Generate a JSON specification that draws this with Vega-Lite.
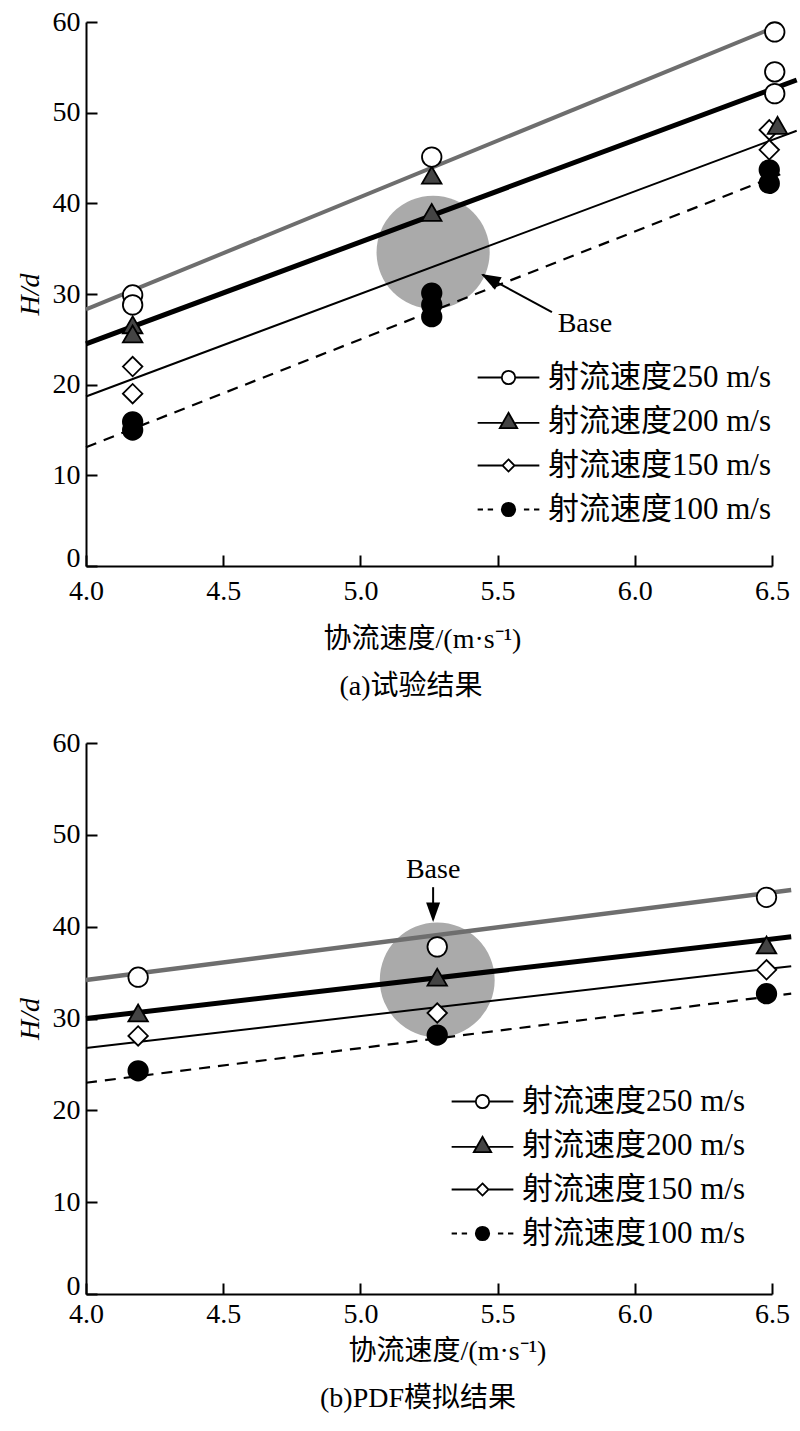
{
  "$schema": "https://vega.github.io/schema/vega-lite/v6.json",
  "padding": {"left": 16, "top": 8, "right": 0, "bottom": 5},
  "bounds": "flush",
  "spacing": 177,
  "config": {
    "view": {"stroke": null},
    "font": "Liberation Serif, Noto Sans CJK SC",
    "axis": {
      "grid": false, "domainColor": "black", "domainWidth": 2, "tickColor": "black", "tickWidth": 2,
      "tickSize": -11, "labelPadding": 17, "labelFont": "Liberation Serif", "labelFontSize": 28,
      "labelColor": "black", "titleFont": "Liberation Serif, Noto Sans CJK SC", "titleFontSize": 28,
      "titleFontWeight": "normal", "titleColor": "black", "labelFlush": false, "labelOverlap": false
    },
    "title": {"font": "Liberation Serif, Noto Sans CJK SC", "fontSize": 28, "fontWeight": "normal", "color": "black"},
    "legend": {
      "labelFont": "Liberation Serif, Noto Sans CJK SC", "labelFontSize": 31, "labelColor": "black",
      "symbolSize": 180, "labelOffset": 24, "rowPadding": 12, "padding": 0, "symbolStrokeWidth": 1.8,
      "labelLimit": 400, "symbolOpacity": 1
    }
  },
  "resolve": {
    "scale": {"x": "independent", "y": "independent", "shape": "independent", "fill": "independent", "stroke": "independent"},
    "legend": {"shape": "independent", "fill": "independent", "stroke": "independent"}
  },
  "datasets": {
    "a_base": [{"x": 5.265, "y": 34.6}],
    "a_lines": [
      {"series": "250", "x": 4.0, "y": 28.3}, {"series": "250", "x": 6.5, "y": 59.3},
      {"series": "200", "x": 4.0, "y": 24.5}, {"series": "200", "x": 6.59, "y": 53.6},
      {"series": "150", "x": 4.0, "y": 18.7}, {"series": "150", "x": 6.59, "y": 48.0},
      {"series": "100", "x": 4.0, "y": 13.1}, {"series": "100", "x": 6.53, "y": 43.2}
    ],
    "a_points": [
      {"series": "100", "x": 4.17, "y": 15.9}, {"series": "100", "x": 4.17, "y": 15.0},
      {"series": "100", "x": 5.26, "y": 30.1}, {"series": "100", "x": 5.26, "y": 28.8}, {"series": "100", "x": 5.26, "y": 27.5},
      {"series": "100", "x": 6.49, "y": 43.7}, {"series": "100", "x": 6.49, "y": 42.2},
      {"series": "150", "x": 4.17, "y": 22.0}, {"series": "150", "x": 4.17, "y": 19.0},
      {"series": "150", "x": 6.49, "y": 48.1}, {"series": "150", "x": 6.49, "y": 45.9},
      {"series": "200", "x": 4.17, "y": 26.6}, {"series": "200", "x": 4.17, "y": 25.6},
      {"series": "200", "x": 5.26, "y": 43.1}, {"series": "200", "x": 5.26, "y": 39.0},
      {"series": "200", "x": 6.52, "y": 48.6},
      {"series": "250", "x": 4.17, "y": 29.9}, {"series": "250", "x": 4.17, "y": 28.8},
      {"series": "250", "x": 5.26, "y": 45.1},
      {"series": "250", "x": 6.51, "y": 58.9}, {"series": "250", "x": 6.51, "y": 54.5}, {"series": "250", "x": 6.51, "y": 52.1}
    ],
    "a_arrow": [{"x": 5.698, "y": 28.0, "x2": 5.445, "y2": 32.15}],
    "a_head": [{"x": 5.44, "y": 32.2}],
    "a_text": [{"x": 5.818, "y": 26.7, "label": "Base"}],
    "b_base": [{"x": 5.28, "y": 34.2}],
    "b_lines": [
      {"series": "250", "x": 4.0, "y": 34.2}, {"series": "250", "x": 6.57, "y": 44.0},
      {"series": "200", "x": 4.0, "y": 30.0}, {"series": "200", "x": 6.57, "y": 38.9},
      {"series": "150", "x": 4.0, "y": 26.8}, {"series": "150", "x": 6.57, "y": 35.7},
      {"series": "100", "x": 4.0, "y": 23.0}, {"series": "100", "x": 6.57, "y": 32.7}
    ],
    "b_points": [
      {"series": "100", "x": 4.19, "y": 24.3}, {"series": "100", "x": 5.28, "y": 28.2}, {"series": "100", "x": 6.48, "y": 32.7},
      {"series": "150", "x": 4.19, "y": 28.1}, {"series": "150", "x": 5.28, "y": 30.6}, {"series": "150", "x": 6.48, "y": 35.3},
      {"series": "200", "x": 4.19, "y": 30.6}, {"series": "200", "x": 5.28, "y": 34.5}, {"series": "200", "x": 6.48, "y": 38.0},
      {"series": "250", "x": 4.19, "y": 34.5}, {"series": "250", "x": 5.28, "y": 37.8}, {"series": "250", "x": 6.48, "y": 43.2}
    ],
    "b_arrow": [{"x": 5.265, "y": 44.3, "x2": 5.265, "y2": 40.8}],
    "b_head": [{"x": 5.265, "y": 40.5}],
    "b_text": [{"x": 5.265, "y": 46.2, "label": "Base"}]
  },
  "vconcat": [
    {
      "width": 686,
      "height": 544,
      "title": {"text": "(a)试验结果", "orient": "bottom", "offset": 20, "dx": -18},
      "encoding": {
        "x": {"field": "x", "type": "quantitative", "scale": {"domain": [4, 6.5], "nice": false, "zero": false},
              "axis": {"values": [4, 4.5, 5, 5.5, 6, 6.5], "format": ".1f", "title": "协流速度/(m·s⁻¹)", "labelPadding": 22, "titlePadding": 20, "titleX": 336}},
        "y": {"field": "y", "type": "quantitative", "scale": {"domain": [0, 60], "nice": false},
              "axis": {"values": [0, 10, 20, 30, 40, 50, 60], "title": "H/d", "titleFontStyle": "italic", "titlePadding": 8,
                       "labelBaseline": {"condition": {"test": "datum.value === 0", "value": "alphabetic"}, "value": "middle"}}}
      },
      "resolve": {
        "scale": {"shape": "independent", "fill": "independent", "stroke": "independent"},
        "legend": {"shape": "independent", "fill": "independent", "stroke": "independent"}
      },
      "layer": [
        {"data": {"name": "a_base"}, "mark": {"type": "point", "shape": "circle", "filled": true, "color": "#aaaaaa", "size": 12800, "opacity": 1}},
        {"data": {"name": "a_lines"}, "transform": [{"filter": "datum.series === '250'"}], "mark": {"type": "line", "color": "#6e6e6e", "strokeWidth": 4}},
        {"data": {"name": "a_lines"}, "transform": [{"filter": "datum.series === '200'"}], "mark": {"type": "line", "color": "black", "strokeWidth": 5}},
        {"data": {"name": "a_lines"}, "transform": [{"filter": "datum.series === '150'"}], "mark": {"type": "line", "color": "black", "strokeWidth": 2}},
        {"data": {"name": "a_lines"}, "transform": [{"filter": "datum.series === '100'"}], "mark": {"type": "line", "color": "black", "strokeWidth": 2.2, "strokeDash": [11, 8]}},
        {"data": {"name": "a_points"},
         "mark": {"type": "point", "filled": true, "stroke": "black", "strokeWidth": 1.8, "size": 380, "opacity": 1},
         "encoding": {
           "shape": {"field": "series", "type": "nominal", "sort": null,
                     "scale": {"domain": ["250", "200", "150", "100"], "range": ["circle", "triangle-up", "diamond", "circle"]},
                     "legend": null},
           "fill": {"field": "series", "type": "nominal", "sort": null,
                    "scale": {"domain": ["250", "200", "150", "100"], "range": ["white", "#444444", "white", "black"]},
                    "legend": null}
         }},
        {"data": {"name": "a_points"},
         "transform": [{"filter": "datum.series === 'none'"}],
         "mark": {"type": "point", "filled": true, "strokeWidth": 1.8, "size": 180, "opacity": 1},
         "encoding": {
           "shape": {"field": "series", "type": "nominal", "sort": null,
                     "scale": {"domain": ["250", "200", "150", "100"],
                               "range": ["M-4.6,0H-1M1,0H4.6M-1,0A1,1 0 1,0 1,0A1,1 0 1,0 -1,0Z",
                                         "M-4.6,0.2H-1M1,0.2H4.6M0,-1.3L1.3,1L-1.3,1Z",
                                         "M-4.6,0H-0.9M0.9,0H4.6M0,-0.9L0.9,0L0,0.9L-0.9,0Z",
                                         "M-4.6,0H-3.8M-3.1,0H-2.3M-1,0A1,1 0 1,0 1,0A1,1 0 1,0 -1,0ZM2.3,0H3.1M3.8,0H4.6"]},
                     "legend": {"title": null, "orient": "none", "legendX": 407, "legendY": 340, "labelExpr": "'射流速度' + datum.label + ' m/s'"}},
           "fill": {"field": "series", "type": "nominal", "sort": null,
                    "scale": {"domain": ["250", "200", "150", "100"], "range": ["white", "#444444", "white", "black"]},
                    "legend": {"title": null, "orient": "none", "legendX": 407, "legendY": 340, "labelExpr": "'射流速度' + datum.label + ' m/s'"}},
           "stroke": {"field": "series", "type": "nominal", "sort": null,
                      "scale": {"domain": ["250", "200", "150", "100"], "range": ["black", "black", "black", "black"]},
                      "legend": {"title": null, "orient": "none", "legendX": 407, "legendY": 340, "labelExpr": "'射流速度' + datum.label + ' m/s'"}}
         }},
        {"data": {"name": "a_arrow"}, "mark": {"type": "rule", "color": "black", "strokeWidth": 2},
         "encoding": {"x2": {"field": "x2"}, "y2": {"field": "y2"}}},
        {"data": {"name": "a_head"}, "mark": {"type": "point", "shape": "M0,0L-1,2.8L1,2.8Z", "filled": true, "color": "black", "size": 196, "angle": 298.8, "opacity": 1}},
        {"data": {"name": "a_text"}, "mark": {"type": "text", "font": "Liberation Serif", "fontSize": 28, "color": "black"},
         "encoding": {"text": {"field": "label"}}}
      ]
    },
    {
      "width": 686,
      "height": 551,
      "title": {"text": "(b)PDF模拟结果", "orient": "bottom", "offset": 20, "dx": -11},
      "encoding": {
        "x": {"field": "x", "type": "quantitative", "scale": {"domain": [4, 6.5], "nice": false, "zero": false},
              "axis": {"values": [4, 4.5, 5, 5.5, 6, 6.5], "format": ".1f", "title": "协流速度/(m·s⁻¹)", "titlePadding": 9, "titleX": 361}},
        "y": {"field": "y", "type": "quantitative", "scale": {"domain": [0, 60], "nice": false},
              "axis": {"values": [0, 10, 20, 30, 40, 50, 60], "title": "H/d", "titleFontStyle": "italic", "titlePadding": 8,
                       "labelBaseline": {"condition": {"test": "datum.value === 0", "value": "alphabetic"}, "value": "middle"}}}
      },
      "resolve": {
        "scale": {"shape": "independent", "fill": "independent", "stroke": "independent"},
        "legend": {"shape": "independent", "fill": "independent", "stroke": "independent"}
      },
      "layer": [
        {"data": {"name": "b_base"}, "mark": {"type": "point", "shape": "circle", "filled": true, "color": "#aaaaaa", "size": 13200, "opacity": 1}},
        {"data": {"name": "b_lines"}, "transform": [{"filter": "datum.series === '250'"}], "mark": {"type": "line", "color": "#6e6e6e", "strokeWidth": 4.5}},
        {"data": {"name": "b_lines"}, "transform": [{"filter": "datum.series === '200'"}], "mark": {"type": "line", "color": "black", "strokeWidth": 5}},
        {"data": {"name": "b_lines"}, "transform": [{"filter": "datum.series === '150'"}], "mark": {"type": "line", "color": "black", "strokeWidth": 2}},
        {"data": {"name": "b_lines"}, "transform": [{"filter": "datum.series === '100'"}], "mark": {"type": "line", "color": "black", "strokeWidth": 2.2, "strokeDash": [11, 8]}},
        {"data": {"name": "b_points"},
         "mark": {"type": "point", "filled": true, "stroke": "black", "strokeWidth": 1.8, "size": 380, "opacity": 1},
         "encoding": {
           "shape": {"field": "series", "type": "nominal", "sort": null,
                     "scale": {"domain": ["250", "200", "150", "100"], "range": ["circle", "triangle-up", "diamond", "circle"]},
                     "legend": null},
           "fill": {"field": "series", "type": "nominal", "sort": null,
                    "scale": {"domain": ["250", "200", "150", "100"], "range": ["white", "#444444", "white", "black"]},
                    "legend": null}
         }},
        {"data": {"name": "b_points"},
         "transform": [{"filter": "datum.series === 'none'"}],
         "mark": {"type": "point", "filled": true, "strokeWidth": 1.8, "size": 180, "opacity": 1},
         "encoding": {
           "shape": {"field": "series", "type": "nominal", "sort": null,
                     "scale": {"domain": ["250", "200", "150", "100"],
                               "range": ["M-4.6,0H-1M1,0H4.6M-1,0A1,1 0 1,0 1,0A1,1 0 1,0 -1,0Z",
                                         "M-4.6,0.2H-1M1,0.2H4.6M0,-1.3L1.3,1L-1.3,1Z",
                                         "M-4.6,0H-0.9M0.9,0H4.6M0,-0.9L0.9,0L0,0.9L-0.9,0Z",
                                         "M-4.6,0H-3.8M-3.1,0H-2.3M-1,0A1,1 0 1,0 1,0A1,1 0 1,0 -1,0ZM2.3,0H3.1M3.8,0H4.6"]},
                     "legend": {"title": null, "orient": "none", "legendX": 381, "legendY": 343, "labelExpr": "'射流速度' + datum.label + ' m/s'"}},
           "fill": {"field": "series", "type": "nominal", "sort": null,
                    "scale": {"domain": ["250", "200", "150", "100"], "range": ["white", "#444444", "white", "black"]},
                    "legend": {"title": null, "orient": "none", "legendX": 381, "legendY": 343, "labelExpr": "'射流速度' + datum.label + ' m/s'"}},
           "stroke": {"field": "series", "type": "nominal", "sort": null,
                      "scale": {"domain": ["250", "200", "150", "100"], "range": ["black", "black", "black", "black"]},
                      "legend": {"title": null, "orient": "none", "legendX": 381, "legendY": 343, "labelExpr": "'射流速度' + datum.label + ' m/s'"}}
         }},
        {"data": {"name": "b_arrow"}, "mark": {"type": "rule", "color": "black", "strokeWidth": 2},
         "encoding": {"x2": {"field": "x2"}, "y2": {"field": "y2"}}},
        {"data": {"name": "b_head"}, "mark": {"type": "point", "shape": "M0,0L-1,2.8L1,2.8Z", "filled": true, "color": "black", "size": 196, "angle": 180, "opacity": 1}},
        {"data": {"name": "b_text"}, "mark": {"type": "text", "font": "Liberation Serif", "fontSize": 28, "color": "black"},
         "encoding": {"text": {"field": "label"}}}
      ]
    }
  ]
}
